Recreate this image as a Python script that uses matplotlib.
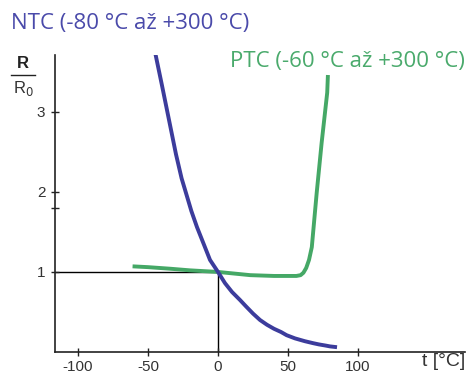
import matplotlib
matplotlib.use('Agg')
import matplotlib.pyplot as plt
from matplotlib.lines import Line2D

W, H = 470, 378
dpi = 100

# NTC curve
ntcT = [-45, -40, -35, -30, -26, -23.6, -19, -15, -10, -5.7, 0, 5, 10, 15.7, 20, 25,
        30, 35, 40, 45, 49, 55, 62, 68, 72, 77, 80, 85]
ntcR = [3.75, 3.33, 2.90, 2.47, 2.17, 2.03, 1.76, 1.56, 1.34, 1.15, 1.0, 0.86, 0.75, 0.65,
        0.57, 0.48, 0.40, 0.34, 0.29, 0.25, 0.21, 0.17, 0.135, 0.11, 0.095, 0.08, 0.07, 0.06]

# PTC curve
ptcT = [-61, -50, -34, -20, 0, 23, 40, 56, 59, 61, 63, 65, 67, 70.5, 74, 78, 78.5]
ptcR = [1.07, 1.06, 1.04, 1.02, 1.0, 0.96, 0.95, 0.95, 0.96, 0.99, 1.05, 1.15, 1.31, 1.99, 2.61, 3.24, 3.46]

xticks = [-100, -50, 0, 50, 100]
yticks = [1, 2, 3]

ntcColor = '#3c3c9c'
ptcColor = '#45a866'
labelColor = '#333333'

fig = plt.figure(figsize=(W / dpi, H / dpi), dpi=dpi)
ax = fig.add_axes([55 / W, 26 / H, 410 / W, 297 / H])
ax.set_xlim(-116.4, 176.4)
ax.set_ylim(0, 3.71)

for s in ['top', 'right']:
    ax.spines[s].set_visible(False)
for s in ['left', 'bottom']:
    ax.spines[s].set_color('#222222')
    ax.spines[s].set_linewidth(1.2)

ax.set_xticks(xticks)
ax.set_xticklabels(['-100', '-50', '0', '50', '100'])
ax.set_yticks(yticks + [1.8])
ax.set_yticklabels(['1', '2', '3', ''])
ax.tick_params(direction='inout', length=6, width=1, color='#222222',
               labelcolor=labelColor, labelsize=11)
ax.tick_params(axis='x', pad=3)
ax.tick_params(axis='y', pad=4)
for lab in ax.get_xticklabels() + ax.get_yticklabels():
    lab.set_family('Liberation Sans')

# reference lines at R/R0 = 1 and t = 0
ax.plot([-116.4, 0], [1, 1], color='black', linewidth=1, zorder=1)
ax.plot([0, 0], [0, 1], color='black', linewidth=1, zorder=1)

ax.plot(ntcT, ntcR, color=ntcColor, linewidth=2.8, solid_capstyle='butt',
        solid_joinstyle='round', zorder=3)
ax.plot(ptcT, ptcR, color=ptcColor, linewidth=2.8, solid_capstyle='butt',
        solid_joinstyle='round', zorder=2)

font = 'Open Sans'
fig.text(11 / W, 1 - 23 / H, 'NTC (-80 °C až +300 °C)', color='#4a4aaa',
         fontsize=16, family=font, va='center', ha='left')
fig.text(465 / W, 1 - 62 / H, 'PTC (-60 °C až +300 °C)', color='#4aaa6c',
         fontsize=16, family=font, va='center', ha='right')

# y label as a fraction R / R0
fig.text(23 / W, 1 - 63 / H, 'R', fontsize=12, weight='bold', family='Liberation Sans',
         ha='center', va='center', color='#222222')
fig.add_artist(Line2D([11 / W, 35 / W], [1 - 75 / H, 1 - 75 / H], color='#222222',
                      linewidth=1, transform=fig.transFigure))
fig.text(23 / W, 1 - 88 / H, 'R$_0$', fontsize=12, family='Liberation Sans',
         ha='center', va='center', color='#333333')

fig.text(465 / W, 1 - 362 / H, 't [°C]', fontsize=14, family='Liberation Sans',
         ha='right', va='center', color=labelColor)

plt.savefig('out.png', dpi=dpi)
plt.close()
